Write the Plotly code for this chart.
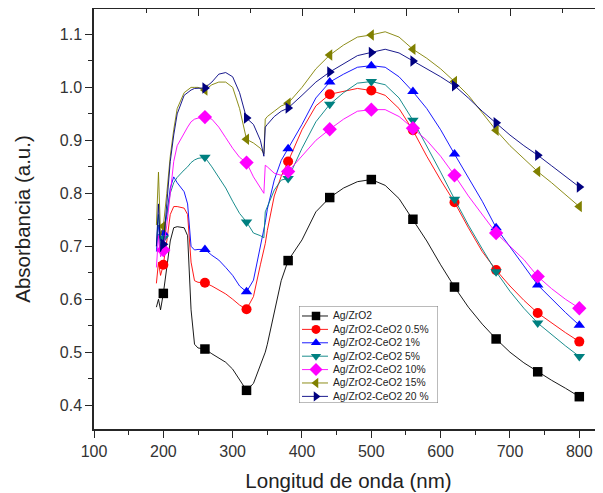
import plotly.graph_objects as go

# ---------------- data ----------------
wavelength = [190, 193, 196, 200, 205, 210, 215, 220, 230, 235, 240, 245, 250, 260, 270, 280, 290, 300,
              310, 320, 330, 340, 345, 347, 350, 360, 370, 380, 400, 420, 440, 460, 480, 500, 520, 540,
              560, 580, 600, 620, 640, 660, 680, 700, 720, 740, 760, 780, 800]

marker_wavelengths = [200, 260, 320, 380, 440, 500, 560, 620, 680, 740, 800]

ag_zro2 = [0.585, 0.600, 0.580, 0.611, 0.660, 0.710, 0.735, 0.737, 0.735, 0.720, 0.580, 0.515, 0.508, 0.506,
           0.497, 0.489, 0.481, 0.468, 0.447, 0.428, 0.441, 0.475, 0.492, 0.500, 0.515, 0.578, 0.635, 0.673,
           0.712, 0.765, 0.792, 0.810, 0.822, 0.826, 0.815, 0.790, 0.751, 0.710, 0.665, 0.623, 0.585, 0.553,
           0.525, 0.500, 0.480, 0.463, 0.447, 0.432, 0.416]

ceo2_05 = [0.630, 0.670, 0.645, 0.665, 0.710, 0.760, 0.775, 0.775, 0.772, 0.760, 0.670, 0.635, 0.632, 0.631,
           0.625, 0.618, 0.610, 0.600, 0.589, 0.581, 0.605, 0.665, 0.695, 0.705, 0.730, 0.795, 0.832, 0.860,
           0.920, 0.965, 0.987, 0.993, 0.998, 0.994, 0.985, 0.960, 0.919, 0.870, 0.825, 0.783, 0.735, 0.690,
           0.655, 0.625, 0.598, 0.574, 0.555, 0.537, 0.520]

ceo2_1 = [0.690, 0.740, 0.710, 0.725, 0.760, 0.810, 0.831, 0.820, 0.803, 0.780, 0.700, 0.693, 0.694, 0.694,
          0.683, 0.674, 0.660, 0.645, 0.625, 0.614, 0.636, 0.700, 0.730, 0.745, 0.770, 0.825, 0.862, 0.884,
          0.930, 0.980, 1.010, 1.025, 1.038, 1.041, 1.038, 1.020, 0.992, 0.960, 0.920, 0.874, 0.830, 0.785,
          0.735, 0.700, 0.663, 0.627, 0.600, 0.575, 0.551]

ceo2_5 = [0.700, 0.760, 0.700, 0.715, 0.760, 0.800, 0.820, 0.830, 0.844, 0.850, 0.858, 0.863, 0.866, 0.868,
          0.850, 0.831, 0.810, 0.785, 0.762, 0.746, 0.725, 0.720, 0.716, 0.765, 0.775, 0.806, 0.825, 0.828,
          0.885, 0.935, 0.968, 0.990, 1.008, 1.011, 1.005, 0.980, 0.938, 0.890, 0.840, 0.789, 0.740, 0.695,
          0.652, 0.615, 0.583, 0.555, 0.533, 0.512, 0.492]

ceo2_10 = [0.660, 0.720, 0.680, 0.693, 0.740, 0.800, 0.860, 0.890, 0.915, 0.925, 0.935, 0.940, 0.942, 0.944,
           0.940, 0.925, 0.905, 0.885, 0.868, 0.858, 0.831, 0.812, 0.800, 0.853, 0.850, 0.838, 0.834, 0.841,
           0.870, 0.900, 0.921, 0.940, 0.955, 0.958, 0.958, 0.945, 0.923, 0.900, 0.870, 0.834, 0.795, 0.760,
           0.725, 0.700, 0.675, 0.643, 0.620, 0.600, 0.583]

ceo2_15 = [0.740, 0.840, 0.720, 0.738, 0.800, 0.870, 0.920, 0.960, 0.990, 0.995, 1.000, 1.000, 1.000, 0.995,
           1.005, 1.010, 1.010, 1.000, 0.960, 0.902, 0.895, 0.885, 0.875, 0.940, 0.945, 0.955, 0.965, 0.970,
           1.000, 1.035, 1.061, 1.080, 1.095, 1.099, 1.105, 1.095, 1.072, 1.055, 1.035, 1.011, 0.985, 0.952,
           0.919, 0.890, 0.865, 0.841, 0.820, 0.797, 0.775]

ceo2_20 = [0.700, 0.780, 0.690, 0.704, 0.780, 0.860, 0.910, 0.950, 0.985, 0.990, 0.995, 0.998, 0.998, 0.999,
           1.010, 1.025, 1.028, 1.020, 0.990, 0.942, 0.930, 0.900, 0.870, 0.925, 0.930, 0.945, 0.955, 0.961,
           0.985, 1.010, 1.029, 1.045, 1.060, 1.066, 1.072, 1.065, 1.050, 1.035, 1.020, 1.003, 0.980, 0.955,
           0.933, 0.910, 0.890, 0.872, 0.852, 0.832, 0.812]

series_names = ["Ag/ZrO2", "Ag/ZrO2-CeO2 0.5%", "Ag/ZrO2-CeO2 1%", "Ag/ZrO2-CeO2 5%",
                "Ag/ZrO2-CeO2 10%", "Ag/ZrO2-CeO2 15%", "Ag/ZrO2-CeO2 20 %"]
series_values = [ag_zro2, ceo2_05, ceo2_1, ceo2_5, ceo2_10, ceo2_15, ceo2_20]

x_tick_labels = ["100", "200", "300", "400", "500", "600", "700", "800"]
y_tick_values = [0.4, 0.5, 0.6, 0.7, 0.8, 0.9, 1.0, 1.1]

# ---------------- styles ----------------
colors = ["#000000", "#ff0000", "#0000ff", "#008080", "#ff00ff", "#808000", "#000080"]
symbols = ["square", "circle", "triangle-up", "triangle-down", "diamond", "triangle-left", "triangle-right"]
msizes = [9.5, 10, 10, 10, 11, 10, 10]
FONT = "Liberation Sans, Arial, sans-serif"
AXC = "#262626"

fig = go.Figure()

for name, vals, c, s, ms in zip(series_names, series_values, colors, symbols, msizes):
    fig.add_trace(go.Scatter(x=wavelength, y=vals, mode="lines",
                             line=dict(color=c, width=0.9), showlegend=False, hoverinfo="skip"))
    mx = [w for w in wavelength if w in marker_wavelengths]
    my = [v for w, v in zip(wavelength, vals) if w in marker_wavelengths]
    fig.add_trace(go.Scatter(x=mx, y=my, mode="markers",
                             marker=dict(color=c, symbol=s, size=ms, line=dict(width=0)),
                             showlegend=False, name=name))

# dummy trace so the top axis is drawn
fig.add_trace(go.Scatter(x=[None], y=[None], xaxis="x2", yaxis="y", showlegend=False, hoverinfo="skip"))

# ---------------- compact legend (own hidden axes) ----------------
LEG_W = 139.0
LEG_H = 7.24
for i, (name, c, s, ms) in enumerate(zip(series_names, colors, symbols, msizes)):
    yy = 0.746 + i
    fig.add_trace(go.Scatter(x=[3, 29], y=[yy, yy], mode="lines", line=dict(color=c, width=0.9),
                             xaxis="x3", yaxis="y3", showlegend=False, hoverinfo="skip"))
    fig.add_trace(go.Scatter(x=[17], y=[yy], mode="markers",
                             marker=dict(color=c, symbol=s, size=ms - 1, line=dict(width=0)),
                             xaxis="x3", yaxis="y3", showlegend=False, hoverinfo="skip"))
    fig.add_annotation(x=32, y=yy, xref="x3", yref="y3", text=name, showarrow=False,
                       xanchor="left", yanchor="middle", font=dict(family=FONT, size=10.3, color="#222"))

fig.add_shape(type="rect", xref="x3", yref="y3", x0=0, x1=LEG_W, y0=0, y1=LEG_H,
              line=dict(color="#777", width=1), fillcolor="white", layer="below")

OFF = 8  # page body margin
W, H = 603 - OFF, 493 - OFF
ml, mr, mt, mb = 94 - OFF, 0, 9 - OFF, H - (429 - OFF)
pw, ph = W - ml - mr, H - mt - mb
leg_left, leg_right, leg_top, leg_bottom = 299 - OFF, 438 - OFF, 306 - OFF, 403 - OFF

fig.update_layout(
    width=W, height=H,
    margin=dict(l=ml, r=mr, t=mt, b=mb, autoexpand=False),
    paper_bgcolor="white", plot_bgcolor="white",
    font=dict(family=FONT, color="#333"),
    showlegend=False,
    xaxis=dict(range=[100, 100 + pw / 0.6933], tickmode="array", automargin=False,
               tickvals=[int(t) for t in x_tick_labels], ticktext=x_tick_labels,
               ticks="outside", ticklen=7, tickwidth=1.2, tickcolor=AXC,
               minor=dict(dtick=50, tick0=100, ticks="outside", ticklen=4, tickwidth=1.2, tickcolor=AXC),
               showline=True, linewidth=1.5, linecolor=AXC, showgrid=False, zeroline=False,
               tickfont=dict(size=16, color="#333"),
               title=dict(text="Longitud de onda (nm)", font=dict(size=20.5, color="#222"), standoff=15)),
    yaxis=dict(range=[0.355, 1.148], tickmode="array", tickvals=y_tick_values, automargin=False,
               ticktext=["%.1f" % v for v in y_tick_values],
               ticks="outside", ticklen=7, tickwidth=1.2, tickcolor=AXC,
               minor=dict(dtick=0.05, tick0=0.35, ticks="outside", ticklen=4, tickwidth=1.2, tickcolor=AXC),
               showline=True, linewidth=1.5, linecolor=AXC, showgrid=False, zeroline=False,
               tickfont=dict(size=16, color="#333"),
               title=dict(text="Absorbancia (a.u.)", font=dict(size=20.5, color="#222"), standoff=24)),
    xaxis2=dict(overlaying="x", side="top", anchor="y", range=[0, pw / 104.2], dtick=1, tick0=0,
                ticks="inside", ticklen=7, tickwidth=1.2, tickcolor=AXC, automargin=False,
                minor=dict(dtick=0.5, ticks="inside", ticklen=4, tickwidth=1.2, tickcolor=AXC),
                showticklabels=False, showline=True, linewidth=1.5, linecolor=AXC,
                showgrid=False, zeroline=False),
    xaxis3=dict(domain=[(leg_left - ml) / pw, (leg_right - ml) / pw], range=[0, LEG_W],
                anchor="y3", visible=False, fixedrange=True),
    yaxis3=dict(domain=[(H - mb - leg_bottom) / ph, (H - mb - leg_top) / ph], range=[LEG_H, 0],
                anchor="x3", visible=False, fixedrange=True),
)

fig.write_html("out.html")
